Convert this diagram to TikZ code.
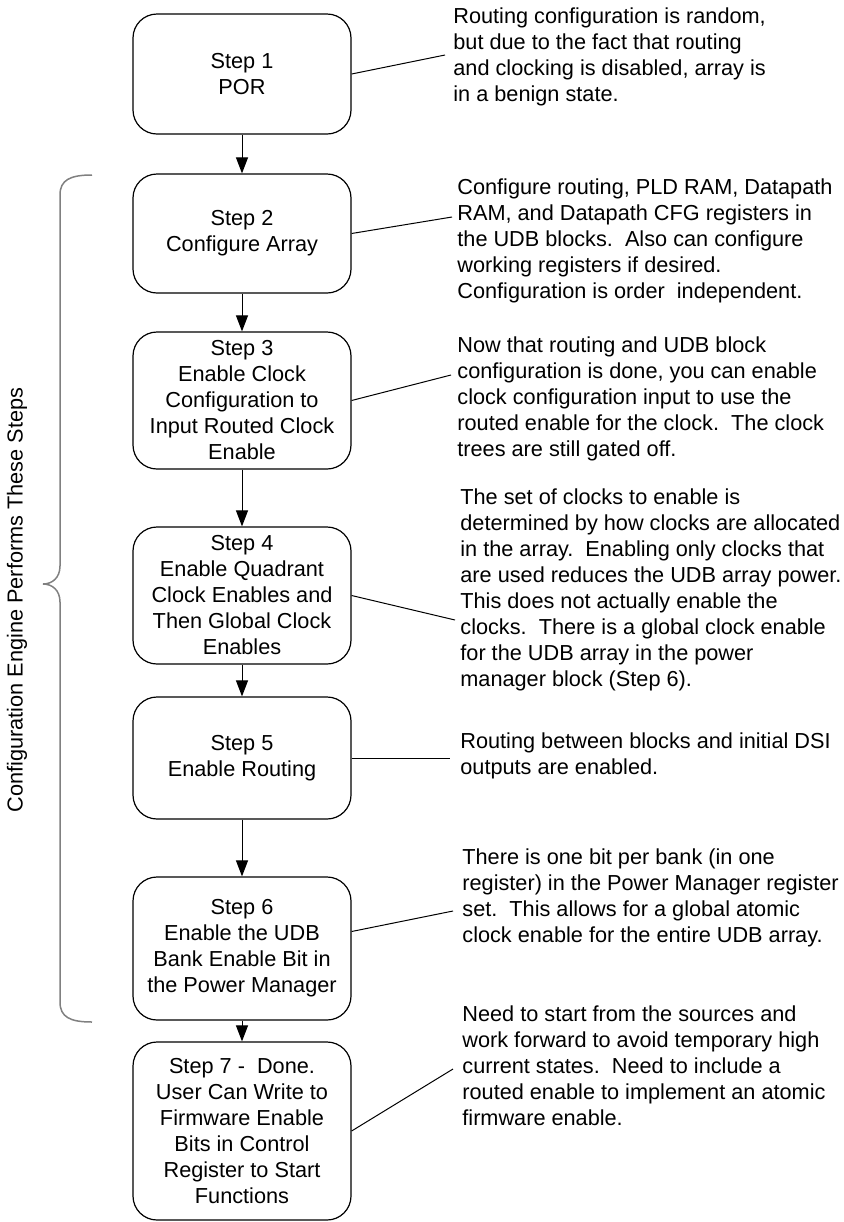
\documentclass[tikz,border=0pt]{standalone}
\usepackage{fontspec}
\setmainfont{Liberation Sans}
\usetikzlibrary{arrows.meta}

\begin{document}
\begin{tikzpicture}[x=0.5pt,y=-0.5pt,>={Triangle[length=8pt,width=6pt]},
    font=\fontsize{10.85}{13}\selectfont,
    stepbox/.style={draw,line width=0.6pt,rounded corners=12pt,align=center,
      minimum width=109pt,inner sep=2pt},
    note/.style={anchor=west,align=left,inner sep=0pt},
    flow/.style={->,line width=0.5pt},
    tie/.style={line width=0.5pt},
    brace/.style={line width=0.75pt,gray}]
  \useasboundingbox (0,0) rectangle (844,1222);
  % the seven steps
  \node[stepbox,minimum height=60pt] (s1) at (242,74) {Step 1\\POR};
  \node[stepbox,minimum height=59.5pt] (s2) at (242,233.5) {Step 2\\Configure Array};
  \node[stepbox,minimum height=68.5pt] (s3) at (242,400.5)
       {Step 3\\Enable Clock\\Configuration to\\Input Routed Clock\\Enable};
  \node[stepbox,minimum height=68.5pt] (s4) at (242,595.5)
       {Step 4\\Enable Quadrant\\Clock Enables and\\Then Global Clock\\Enables};
  \node[stepbox,minimum height=61pt] (s5) at (242,758) {Step 5\\Enable Routing};
  \node[stepbox,minimum height=71.5pt] (s6) at (242,948.5)
       {Step 6\\Enable the UDB\\Bank Enable Bit in\\the Power Manager};
  \node[stepbox,minimum height=89pt] (s7) at (242,1131)
       {Step 7 -\ \ Done.\\User Can Write to\\Firmware Enable\\Bits in Control\\Register to Start\\Functions};
  \foreach \a/\b in {s1/s2,s2/s3,s3/s4,s4/s5,s5/s6,s6/s7}
    \draw[flow] (\a.south) -- (\b.north);
  % notes on the right
  \node[note] (n1) at (453,57) {Routing configuration is random,\\but due to the fact that routing\\
       and clocking is disabled, array is\\in a benign state.};
  \node[note] (n2) at (457,241) {Configure routing, PLD RAM, Datapath\\RAM, and Datapath CFG registers in\\
       the UDB blocks.\ \ Also can configure\\working registers if desired.\\Configuration is order\ \ independent.};
  \node[note] (n3) at (457,399) {Now that routing and UDB block\\configuration is done, you can enable\\
       clock configuration input to use the\\routed enable for the clock.\ \ The clock\\trees are still gated off.};
  \node[note] (n4) at (460,590) {The set of clocks to enable is\\determined by how clocks are allocated\\
       in the array.\ \ Enabling only clocks that\\are used reduces the UDB array power.\\
       This does not actually enable the\\clocks.\ \ There is a global clock enable\\
       for the UDB array in the power\\manager block (Step 6).};
  \node[note] (n5) at (460,756) {Routing between blocks and initial DSI\\outputs are enabled.};
  \node[note] (n6) at (462,898) {There is one bit per bank (in one\\register) in the Power Manager register\\
       set.\ \ This allows for a global atomic\\clock enable for the entire UDB array.};
  \node[note] (n7) at (462,1066) {Need to start from the sources and\\work forward to avoid temporary high\\
       current states.\ \ Need to include a\\routed enable to implement an atomic\\firmware enable.};
  % lines from the boxes to their notes
  \coordinate (c1) at (445,55);
  \coordinate (c2) at (452,217);
  \coordinate (c3) at (451,375);
  \coordinate (c4) at (455,620);
  \coordinate (c5) at (450,758);
  \coordinate (c6) at (453,911);
  \coordinate (c7) at (453,1069);
  \draw[tie] (s1.east) -- (c1);
  \draw[tie] (s2.east) -- (c2);
  \draw[tie] (s3.east) -- (c3);
  \draw[tie] (s4.east) -- (c4);
  \draw[tie] (s5.east) -- (c5);
  \draw[tie] ([yshift=8.5pt]s6.east) -- (c6);
  \draw[tie] (s7.east) -- (c7);
  % brace over steps 2 to 6
  \draw[brace] (92,175) .. controls (70,175) and (60,180) .. (60,195) -- (60,566)
       .. controls (60,578) and (52,584) .. (43,584)
       .. controls (52,584) and (60,590) .. (60,602) -- (60,1002)
       .. controls (60,1017) and (70,1022) .. (92,1022);
  \node[rotate=90] (lbl) at (17,600) {Configuration Engine Performs These Steps};
\end{tikzpicture}
\end{document}
